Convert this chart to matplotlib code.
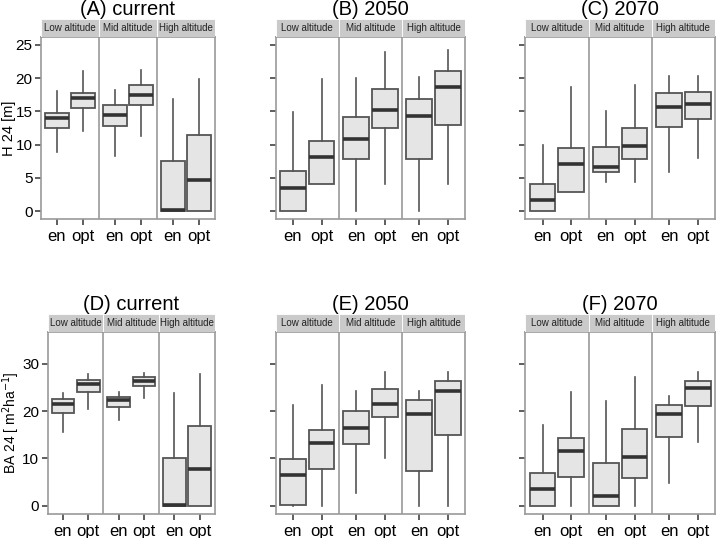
import numpy as np
import matplotlib
matplotlib.use("Agg")
import matplotlib.pyplot as plt
from matplotlib.patches import Rectangle

plt.rcParams['font.family'] = ['Liberation Sans', 'DejaVu Sans']

zones = ['Low altitude', 'Mid altitude', 'High altitude']
groups = ['en', 'opt']
titles = ['(A) current', '(B) 2050', '(C) 2070', '(D) current', '(E) 2050', '(F) 2070']

# order of boxes in each panel: Low en, Low opt, Mid en, Mid opt, High en, High opt
a_med = [13.95, 17.0, 14.4, 17.5, 0.1, 4.7]
a_q1 = [12.45, 15.5, 12.8, 15.9, 0.0, 0.0]
a_q3 = [14.7, 17.8, 15.9, 18.9, 7.6, 11.5]
a_lo = [8.9, 12.05, 8.3, 11.3, 0.0, 0.0]
a_hi = [18.1, 21.1, 18.2, 21.2, 16.9, 19.9]

b_med = [3.4, 8.2, 10.9, 15.2, 14.3, 18.6]
b_q1 = [0.0, 4.0, 7.9, 12.5, 7.9, 13.0]
b_q3 = [6.0, 10.6, 14.2, 18.3, 16.9, 21.1]
b_lo = [0.0, 4.0, 0.0, 4.0, 0.0, 4.0]
b_hi = [14.9, 19.9, 20.0, 24.0, 20.2, 24.3]

c_med = [1.6, 7.1, 6.7, 9.8, 15.7, 16.1]
c_q1 = [0.0, 2.8, 5.9, 7.9, 12.6, 13.9]
c_q3 = [4.0, 9.5, 9.6, 12.45, 17.8, 17.9]
c_lo = [0.0, 2.8, 4.4, 4.4, 5.9, 8.0]
c_hi = [10.0, 18.7, 15.1, 18.9, 20.3, 20.3]

d_med = [21.4, 25.7, 22.3, 26.4, 0.1, 7.7]
d_q1 = [19.5, 24.0, 20.9, 25.3, 0.0, 0.0]
d_q3 = [22.5, 26.5, 22.9, 27.1, 10.2, 16.9]
d_lo = [15.5, 20.4, 18.1, 22.7, 0.0, 0.0]
d_hi = [23.7, 27.8, 24.0, 28.0, 23.7, 27.8]

e_med = [6.6, 13.2, 16.4, 21.4, 19.3, 24.2]
e_q1 = [0.1, 7.7, 13.1, 18.8, 7.3, 15.0]
e_q3 = [9.9, 16.0, 20.1, 24.6, 22.3, 26.4]
e_lo = [0.0, 0.0, 2.8, 10.2, 0.0, 0.0]
e_hi = [21.3, 25.5, 24.3, 28.3, 24.2, 28.2]

f_med = [3.6, 11.6, 2.1, 10.3, 19.3, 24.8]
f_q1 = [0.0, 6.1, 0.0, 5.8, 14.5, 21.0]
f_q3 = [7.0, 14.4, 9.1, 16.2, 21.3, 26.4]
f_lo = [0.0, 0.0, 0.0, 0.0, 4.8, 13.4]
f_hi = [17.1, 24.0, 22.1, 27.2, 23.2, 28.3]

panels = [
    (a_med, a_q1, a_q3, a_lo, a_hi),
    (b_med, b_q1, b_q3, b_lo, b_hi),
    (c_med, c_q1, c_q3, c_lo, c_hi),
    (d_med, d_q1, d_q3, d_lo, d_hi),
    (e_med, e_q1, e_q3, e_lo, e_hi),
    (f_med, f_q1, f_q3, f_lo, f_hi),
]

W, H = 716, 538
fig = plt.figure(figsize=(W / 100, H / 100), dpi=100)

def frac(x0, y0, x1, y1):
    return [x0 / W, 1 - y1 / H, (x1 - x0) / W, (y1 - y0) / H]

# panel extents in pixels (left, right)
xs = [(41, 215), (275.7, 465), (525.3, 715), (47.7, 215), (275.7, 465), (525.3, 715)]
rows = [(19, 37, 219), (314.3, 332.3, 514)]
title_base = [15, 310]
ylims = [(-1.2, 26.2), (-1.7, 36.6)]
yticks = [[0, 5, 10, 15, 20, 25], [0, 10, 20, 30]]
ylabels = ['H 24 [m]', 'BA 24 [ m$^{2}$ha$^{-1}$]']
ylabel_x = [-0.145, -0.155]
ylabel_size = [10.5, 10]

pos = []
for k in range(3):
    pos += [2.2 * k + 1, 2.2 * k + 2]

edge = '#555555'
border = '#9a9a9a'

for i, (med, q1, q3, lo, hi) in enumerate(panels):
    r = i // 3
    st, pt, pb = rows[r]
    x0, x1 = xs[i]
    ax = fig.add_axes(frac(x0, pt, x1, pb))
    stats = []
    for j in range(6):
        stats.append({'med': med[j], 'q1': q1[j], 'q3': q3[j],
                      'whislo': lo[j], 'whishi': hi[j], 'fliers': []})
    ax.bxp(stats, positions=pos, widths=0.9, patch_artist=True,
           showfliers=False, showcaps=False,
           boxprops=dict(facecolor='#e5e5e5', edgecolor=edge, linewidth=1.3),
           whiskerprops=dict(color=edge, linewidth=1.2),
           medianprops=dict(color='#333333', linewidth=2.6, solid_capstyle='butt'))
    ax.set_xlim(0.4, 7.0)
    ax.set_ylim(*ylims[r])
    for sx in [2.6, 4.8]:
        ax.axvline(sx, color=border, linewidth=1.2)
    for s in ax.spines.values():
        s.set_color(border)
        s.set_linewidth(1.2)
    ax.set_xticks(pos)
    ax.set_xticklabels(groups * 3, fontsize=12)
    ax.set_yticks(yticks[r])
    ax.tick_params(axis='both', color='#333333', length=4, width=1.1, pad=2)
    ax.tick_params(axis='x', pad=3)
    if i % 3 == 0:
        ax.set_yticklabels([str(t) for t in yticks[r]], fontsize=11)
        ax.set_ylabel(ylabels[r], fontsize=ylabel_size[r])
        ax.yaxis.set_label_coords(ylabel_x[r], 0.5)
    else:
        ax.set_yticklabels([])

    sax = fig.add_axes(frac(x0, st, x1, pt))
    sax.set_xlim(0.4, 7.0)
    sax.set_ylim(0, 1)
    sax.axis('off')
    for k in range(3):
        sax.add_patch(Rectangle((0.4 + 2.2 * k, 0), 2.2, 1, facecolor='#cacaca',
                                edgecolor='white', linewidth=0.6))
        sax.text(1.5 + 2.2 * k, 0.5, zones[k], ha='center', va='center',
                 fontsize=7, color='#222222')
    fig.text((x0 + x1) / 2 / W, 1 - title_base[r] / H, titles[i], ha='center',
             va='baseline', fontsize=14.5)

fig.savefig('out.png', dpi=100)
